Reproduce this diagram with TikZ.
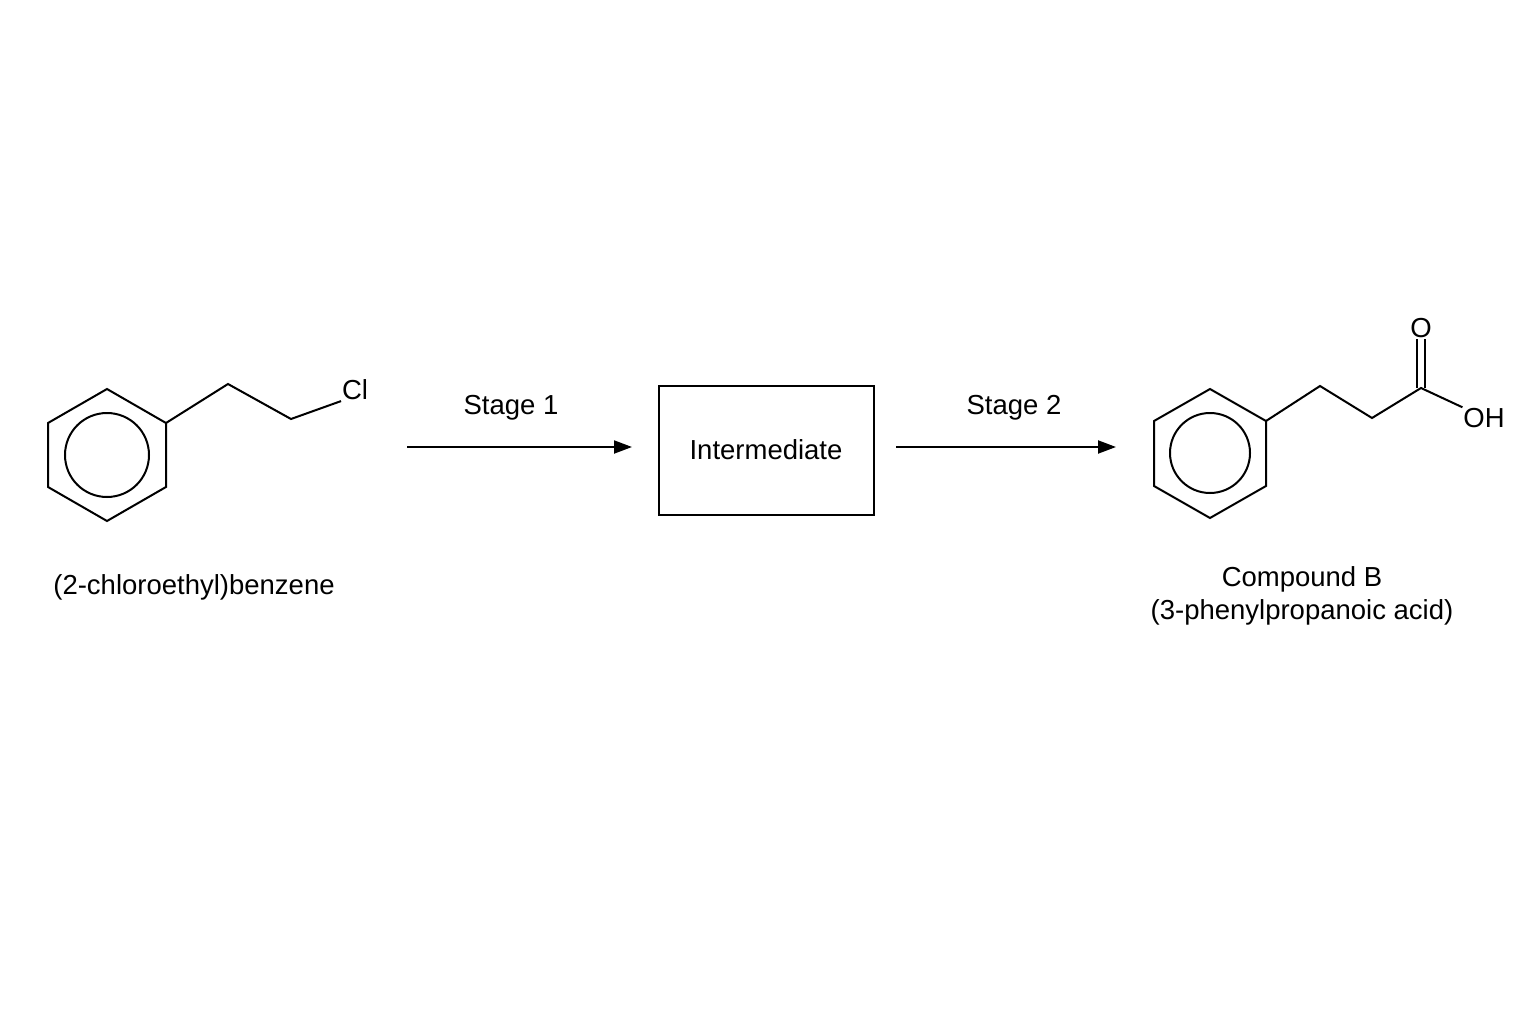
\documentclass[tikz,border=0pt]{standalone}
\usepackage{fontspec}
\setmainfont{Liberation Sans}
\usetikzlibrary{arrows.meta}
\begin{document}
\begin{tikzpicture}[x=1pt,y=-1pt,line width=2pt,
  lbl/.style={font=\fontsize{27.5}{32}\selectfont,inner sep=0pt},
  rx/.style={-{Triangle[length=18pt,width=13pt]}}]
\useasboundingbox[fill=white] (0,0) rectangle (1536,1024);
% left benzene
\draw (166,423)--(107,389)--(48,423)--(48,487)--(107,521)--(166,487)--cycle;
\draw (107,455) circle[radius=42];
\node[lbl] (cl) at (355,390) {Cl};
\coordinate (a1) at (166,423);
\coordinate (a2) at (228,384);
\coordinate (a3) at (291,419);
\draw (a1)--(a2)--(a3)--(cl.south west);
\node[lbl] (n1) at (194,587) {(2-chloroethyl)benzene};
% arrows and box
\node[draw,minimum width=215pt,minimum height=129pt,inner sep=0pt,lbl] (im) at (766,450) {Intermediate};
\coordinate (s1) at (407,447);
\coordinate (e1) at (632,447);
\draw[rx] (s1)--(e1);
\node[lbl] (t1) at (511,408) {Stage 1};
\coordinate (s2) at (896,447);
\coordinate (e2) at (1116,447);
\draw[rx] (s2)--(e2);
\node[lbl] (t2) at (1014,408) {Stage 2};
% right benzene
\draw (1266,421)--(1210,389)--(1154,421)--(1154,486)--(1210,518)--(1266,486)--cycle;
\draw (1210,453) circle[radius=40];
\coordinate (b1) at (1266,421);
\coordinate (b2) at (1320,386);
\coordinate (b3) at (1372,418);
\coordinate (b4) at (1421,388);
\node[lbl] (o) at (1421,328) {O};
\node[lbl] (oh) at (1484,418) {OH};
\draw (b1)--(b2)--(b3)--(b4)--(oh.north west);
\draw ([xshift=-4pt]b4)--([xshift=-4pt]o.south);
\draw ([xshift=4pt]b4)--([xshift=4pt]o.south);
\node[lbl] (n2) at (1302,579) {Compound B};
\node[lbl] (n3) at (1302,612) {(3-phenylpropanoic acid)};
\end{tikzpicture}
\end{document}
